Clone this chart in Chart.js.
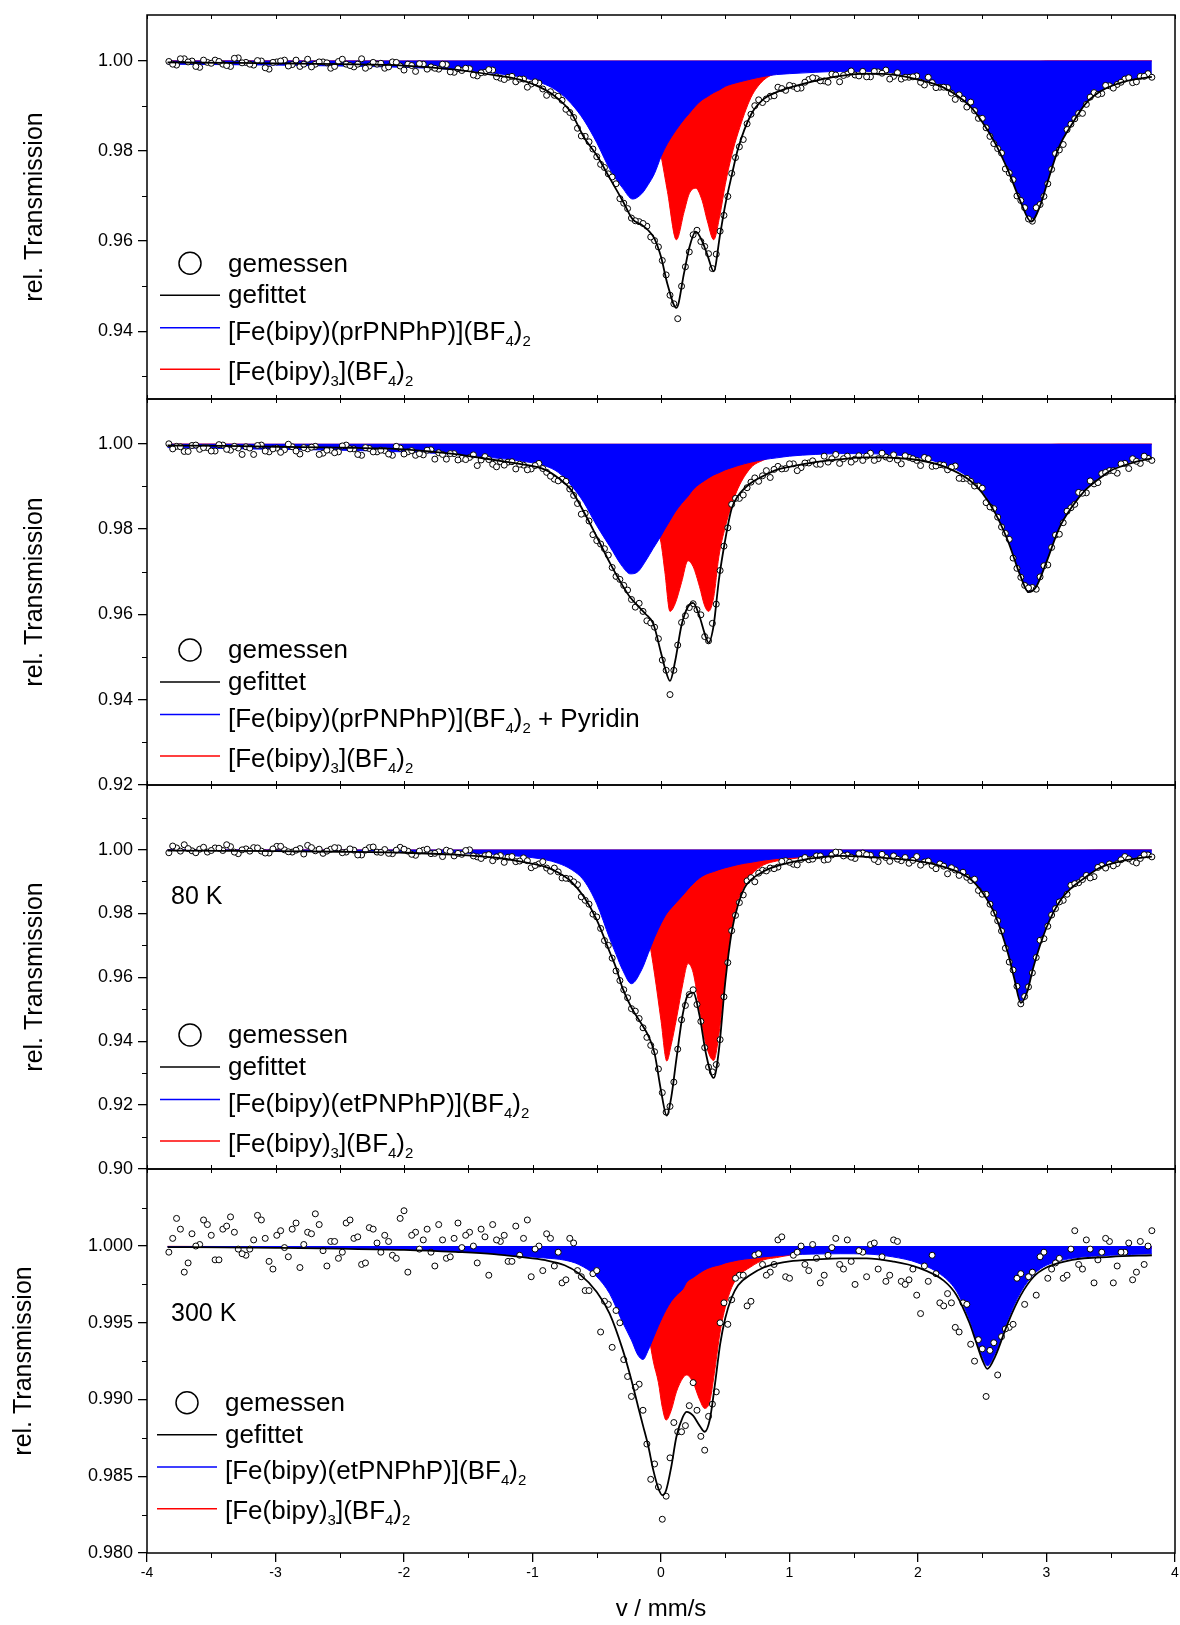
<!DOCTYPE html>
<html lang="de">
<head>
<meta charset="UTF-8">
<title>Mössbauer-Spektren</title>
<script src="https://cdn.jsdelivr.net/npm/chart.js"></script>
<style>
  body { margin: 0; background: #fff; }
  #wrap { position: relative; width: 1180px; height: 1625px; overflow: hidden; background: #fff; }
  canvas { position: absolute; left: 0; }
</style>
</head>
<body>
<div id="wrap">
  <canvas id="cTop" width="1180" height="414" style="top:0px"></canvas>
  <canvas id="cPyr" width="1180" height="416" style="top:384px"></canvas>
  <canvas id="c80" width="1180" height="414" style="top:770px"></canvas>
  <canvas id="c300" width="1180" height="471" style="top:1154px"></canvas>
</div>
<script>
// x axis (velocity, mm/s)
const velTicks = [-4, -3, -2, -1, 0, 1, 2, 3, 4];
const velMinor = [-3.5, -2.5, -1.5, -0.5, 0.5, 1.5, 2.5, 3.5];

// measuring channels, two interleaved sets (same for all spectra)
const channels = [
  -3.83,-3.77,-3.71,-3.65,-3.59,-3.53,-3.47,-3.41,-3.35,-3.29,
  -3.23,-3.17,-3.11,-3.05,-2.99,-2.93,-2.87,-2.81,-2.75,-2.69,
  -2.63,-2.57,-2.51,-2.45,-2.39,-2.33,-2.27,-2.21,-2.15,-2.09,
  -2.03,-1.97,-1.91,-1.85,-1.79,-1.73,-1.67,-1.61,-1.55,-1.49,
  -1.43,-1.37,-1.31,-1.25,-1.19,-1.13,-1.07,-1.01,-0.95,-0.89,
  -0.83,-0.77,-0.71,-0.65,-0.59,-0.53,-0.47,-0.41,-0.35,-0.29,
  -0.23,-0.17,-0.11,-0.05,0.01,0.07,0.13,0.19,0.25,0.31,
  0.37,0.43,0.49,0.55,0.61,0.67,0.73,0.79,0.85,0.91,
  0.97,1.03,1.09,1.15,1.21,1.27,1.33,1.39,1.45,1.51,
  1.57,1.63,1.69,1.75,1.81,1.87,1.93,1.99,2.05,2.11,
  2.17,2.23,2.29,2.35,2.41,2.47,2.53,2.59,2.65,2.71,
  2.77,2.83,2.89,2.95,3.01,3.07,3.13,3.19,3.25,3.31,
  3.37,3.43,3.49,3.55,3.61,3.67,3.73,3.79
];
const channelsB = [
  -3.80,-3.74,-3.68,-3.62,-3.56,-3.50,-3.44,-3.38,-3.32,-3.26,
  -3.20,-3.14,-3.08,-3.02,-2.96,-2.90,-2.84,-2.78,-2.72,-2.66,
  -2.60,-2.54,-2.48,-2.42,-2.36,-2.30,-2.24,-2.18,-2.12,-2.06,
  -2.00,-1.94,-1.88,-1.82,-1.76,-1.70,-1.64,-1.58,-1.52,-1.46,
  -1.40,-1.34,-1.28,-1.22,-1.16,-1.10,-1.04,-0.98,-0.92,-0.86,
  -0.80,-0.74,-0.68,-0.62,-0.56,-0.50,-0.44,-0.38,-0.32,-0.26,
  -0.20,-0.14,-0.08,-0.02,0.04,0.10,0.16,0.22,0.28,0.34,
  0.40,0.46,0.52,0.58,0.64,0.70,0.76,0.82,0.88,0.94,
  1.00,1.06,1.12,1.18,1.24,1.30,1.36,1.42,1.48,1.54,
  1.60,1.66,1.72,1.78,1.84,1.90,1.96,2.02,2.08,2.14,
  2.20,2.26,2.32,2.38,2.44,2.50,2.56,2.62,2.68,2.74,
  2.80,2.86,2.92,2.98,3.04,3.10,3.16,3.22,3.28,3.34,
  3.40,3.46,3.52,3.58,3.64,3.70,3.76,3.82
];

// --- panel 1: [Fe(bipy)(prPNPhP)](BF4)2 ---
const measTop = [
  0.9998,0.9990,1.0004,0.9999,0.9985,0.9996,1.0001,0.9992,0.9987,1.0006,
  0.9996,0.9990,0.9999,0.9981,0.9997,1.0001,0.9991,0.9987,1.0003,0.9992,
  0.9997,0.9983,0.9998,0.9992,0.9986,1.0004,0.9988,0.9992,0.9983,0.9997,
  0.9988,0.9992,0.9976,0.9992,0.9986,0.9981,0.9991,0.9974,0.9978,0.9982,
  0.9966,0.9974,0.9979,0.9961,0.9963,0.9953,0.9959,0.9948,0.9950,0.9923,
  0.9923,0.9912,0.9885,0.9850,0.9832,0.9804,0.9770,0.9749,0.9727,0.9684,
  0.9651,0.9643,0.9633,0.9601,0.9557,0.9480,0.9428,0.9543,0.9614,0.9599,
  0.9572,0.9571,0.9657,0.9750,0.9809,0.9860,0.9900,0.9907,0.9921,0.9941,
  0.9934,0.9943,0.9939,0.9958,0.9960,0.9955,0.9970,0.9953,0.9970,0.9968,
  0.9976,0.9964,0.9975,0.9979,0.9965,0.9959,0.9963,0.9966,0.9946,0.9951,
  0.9941,0.9940,0.9914,0.9915,0.9908,0.9872,0.9851,0.9816,0.9795,0.9751,
  0.9700,0.9674,0.9644,0.9681,0.9727,0.9794,0.9814,0.9859,0.9883,0.9903,
  0.9929,0.9927,0.9944,0.9947,0.9959,0.9951,0.9965,0.9971
];
const measTopB = [
  0.9992,1.0004,0.9997,0.9987,1.0001,0.9994,0.9998,0.9989,1.0005,0.9995,
  0.9992,1.0000,0.9984,0.9996,0.9999,0.9988,1.0001,0.9992,0.9986,0.9997,
  0.9995,0.9987,1.0003,0.9989,0.9992,0.9983,0.9996,0.9994,0.9986,0.9996,
  0.9979,0.9989,0.9993,0.9981,0.9983,0.9992,0.9975,0.9982,0.9983,0.9968,
  0.9973,0.9980,0.9964,0.9958,0.9965,0.9959,0.9941,0.9953,0.9937,0.9931,
  0.9921,0.9892,0.9874,0.9833,0.9820,0.9787,0.9763,0.9742,0.9694,0.9672,
  0.9645,0.9639,0.9609,0.9587,0.9525,0.9461,0.9500,0.9576,0.9624,0.9588,
  0.9539,0.9622,0.9699,0.9785,0.9825,0.9881,0.9913,0.9915,0.9922,0.9938,
  0.9945,0.9938,0.9952,0.9962,0.9955,0.9952,0.9968,0.9967,0.9977,0.9966,
  0.9964,0.9976,0.9972,0.9959,0.9973,0.9963,0.9964,0.9952,0.9963,0.9940,
  0.9941,0.9928,0.9924,0.9897,0.9889,0.9872,0.9832,0.9805,0.9760,0.9736,
  0.9690,0.9649,0.9674,0.9699,0.9759,0.9802,0.9847,0.9871,0.9883,0.9919,
  0.9925,0.9945,0.9939,0.9952,0.9962,0.9953,0.9965,0.9963
];
const gridTop = [-3.84,-3.4,-3.0,-2.5,-2.0,-1.6,-1.3,-1.1,-0.9,-0.8,-0.7,-0.6,-0.5,-0.4,-0.3,-0.22,-0.15,-0.1,-0.05,0,
  0.05,0.12,0.18,0.22,0.27,0.32,0.36,0.41,0.46,0.5,0.55,0.6,0.7,0.8,0.9,1.0,1.2,1.4,1.6,1.8,
  2.0,2.2,2.4,2.5,2.6,2.7,2.8,2.88,2.95,3.0,3.1,3.2,3.3,3.4,3.5,3.6,3.7,3.82];
const fitTop = [0.9996,0.9995,0.9994,0.9992,0.9989,0.9980,0.9968,0.9958,0.9935,0.9915,0.9885,0.9830,0.9790,0.9740,0.9690,0.9648,0.9636,0.9624,0.9605,0.9565,
  0.9505,0.9452,0.9530,0.9585,0.9621,0.9600,0.9570,0.9533,0.9615,0.9680,0.9745,0.9805,0.9880,0.9915,0.9930,0.9940,0.9955,0.9966,0.9971,0.9969,
  0.9958,0.9940,0.9900,0.9864,0.9817,0.9757,0.9686,0.9643,0.9678,0.9723,0.9810,0.9860,0.9903,0.9928,0.9943,0.9953,0.9959,0.9964];
const blueTop = [0.9992,0.9991,0.9990,0.9988,0.9985,0.9980,0.9972,0.9964,0.9947,0.9931,0.9905,0.9868,0.9818,0.9760,0.9718,0.9693,0.9705,0.9725,0.9750,0.9787,
  0.9816,0.9847,0.9870,0.9883,0.9900,0.9913,0.9920,0.9929,0.9936,0.9943,0.9948,0.9952,0.9959,0.9965,0.9969,0.9971,0.9974,0.9976,0.9976,0.9973,
  0.9961,0.9943,0.9903,0.9866,0.9820,0.9760,0.9688,0.9645,0.9680,0.9725,0.9812,0.9862,0.9905,0.9930,0.9945,0.9955,0.9961,0.9966];
const redTop = [0.9999,0.9999,0.9999,0.9999,0.9998,0.9998,0.9997,0.9996,0.9995,0.9994,0.9993,0.9992,0.9989,0.9982,0.9970,0.9952,0.9925,0.9898,0.9858,0.9790,
  0.9710,0.9603,0.9665,0.9705,0.9717,0.9690,0.9645,0.9603,0.9660,0.9725,0.9790,0.9840,0.9918,0.9957,0.9972,0.9980,0.9988,0.9992,0.9994,0.9996,
  0.9997,0.9997,0.9998,0.9998,0.9998,0.9998,0.9998,0.9998,0.9998,0.9999,0.9999,0.9999,0.9999,0.9999,0.9999,0.9999,0.9999,0.9999];

// --- panel 2: + Pyridin ---
const measPyr = [
  1.0000,0.9994,0.9982,0.9996,0.9987,0.9991,0.9983,0.9997,0.9985,0.9990,
  0.9993,0.9975,0.9997,0.9981,0.9990,0.9986,0.9993,0.9976,0.9988,0.9994,
  0.9978,0.9985,0.9981,0.9997,0.9988,0.9973,0.9989,0.9981,0.9984,0.9973,
  0.9990,0.9981,0.9973,0.9974,0.9986,0.9979,0.9964,0.9977,0.9966,0.9968,
  0.9949,0.9970,0.9952,0.9958,0.9957,0.9941,0.9950,0.9941,0.9954,0.9933,
  0.9917,0.9917,0.9894,0.9860,0.9837,0.9787,0.9765,0.9739,0.9689,0.9668,
  0.9635,0.9626,0.9585,0.9570,0.9493,0.9412,0.9528,0.9597,0.9625,0.9599,
  0.9538,0.9624,0.9760,0.9858,0.9872,0.9897,0.9920,0.9925,0.9921,0.9947,
  0.9942,0.9953,0.9944,0.9955,0.9952,0.9971,0.9965,0.9954,0.9971,0.9964,
  0.9961,0.9978,0.9965,0.9969,0.9974,0.9953,0.9968,0.9961,0.9968,0.9947,
  0.9951,0.9939,0.9948,0.9918,0.9912,0.9901,0.9862,0.9848,0.9805,0.9776,
  0.9708,0.9668,0.9663,0.9688,0.9716,0.9786,0.9815,0.9850,0.9886,0.9885,
  0.9906,0.9930,0.9937,0.9931,0.9954,0.9965,0.9954,0.9966
];
const measPyrB = [
  0.9988,0.9993,0.9982,0.9997,0.9991,0.9983,0.9998,0.9987,0.9994,0.9975,
  0.9990,0.9996,0.9983,0.9988,0.9980,0.9999,0.9983,0.9991,0.9992,0.9975,
  0.9985,0.9979,0.9995,0.9988,0.9975,0.9991,0.9981,0.9985,0.9976,0.9994,
  0.9976,0.9984,0.9977,0.9985,0.9964,0.9975,0.9977,0.9962,0.9963,0.9974,
  0.9962,0.9963,0.9946,0.9950,0.9958,0.9952,0.9939,0.9949,0.9942,0.9924,
  0.9913,0.9912,0.9879,0.9835,0.9819,0.9773,0.9754,0.9710,0.9682,0.9657,
  0.9617,0.9607,0.9580,0.9543,0.9469,0.9469,0.9581,0.9616,0.9611,0.9548,
  0.9579,0.9703,0.9803,0.9872,0.9880,0.9910,0.9912,0.9937,0.9940,0.9941,
  0.9953,0.9937,0.9955,0.9960,0.9952,0.9957,0.9975,0.9965,0.9957,0.9972,
  0.9971,0.9961,0.9978,0.9965,0.9962,0.9972,0.9965,0.9949,0.9965,0.9948,
  0.9950,0.9945,0.9919,0.9919,0.9901,0.9896,0.9852,0.9828,0.9790,0.9732,
  0.9687,0.9662,0.9659,0.9714,0.9757,0.9788,0.9842,0.9858,0.9884,0.9913,
  0.9909,0.9933,0.9937,0.9953,0.9942,0.9959,0.9971,0.9961
];
const gridPyr = [-3.84,-3.4,-3.0,-2.5,-2.0,-1.6,-1.3,-1.1,-0.9,-0.8,-0.7,-0.6,-0.5,-0.4,-0.3,-0.24,-0.18,-0.12,-0.06,0,
  0.03,0.07,0.11,0.16,0.21,0.25,0.3,0.34,0.37,0.41,0.45,0.5,0.55,0.6,0.7,0.8,0.9,1.0,1.2,1.4,
  1.6,1.8,2.0,2.2,2.4,2.5,2.6,2.7,2.8,2.86,2.92,3.0,3.1,3.2,3.3,3.4,3.5,3.6,3.7,3.82];
const fitPyr = [0.9996,0.9995,0.9993,0.9991,0.9987,0.9976,0.9962,0.9953,0.9939,0.9920,0.9892,0.9840,0.9782,0.9722,0.9668,0.9640,0.9620,0.9601,0.9578,0.9510,
  0.9475,0.9444,0.9490,0.9575,0.9618,0.9627,0.9595,0.9555,0.9534,0.9575,0.9680,0.9775,0.9848,0.9878,0.9908,0.9925,0.9939,0.9946,0.9957,0.9964,
  0.9968,0.9967,0.9962,0.9947,0.9915,0.9885,0.9838,0.9772,0.9688,0.9652,0.9665,0.9723,0.9803,0.9853,0.9891,0.9916,0.9937,0.9949,0.9958,0.9966];
const bluePyr = [0.9991,0.9989,0.9987,0.9985,0.9981,0.9975,0.9967,0.9960,0.9948,0.9933,0.9903,0.9862,0.9808,0.9760,0.9712,0.9695,0.9700,0.9725,0.9755,0.9784,
  0.9800,0.9820,0.9840,0.9860,0.9877,0.9893,0.9906,0.9914,0.9920,0.9927,0.9932,0.9939,0.9944,0.9949,0.9957,0.9963,0.9967,0.9971,0.9975,0.9977,
  0.9977,0.9974,0.9968,0.9952,0.9920,0.9889,0.9842,0.9775,0.9690,0.9654,0.9667,0.9725,0.9805,0.9855,0.9893,0.9918,0.9940,0.9952,0.9962,0.9970];
const redPyr = [0.9999,0.9999,0.9998,0.9998,0.9997,0.9996,0.9994,0.9992,0.9989,0.9987,0.9985,0.9982,0.9976,0.9967,0.9955,0.9945,0.9925,0.9895,0.9840,0.9768,
  0.9700,0.9607,0.9625,0.9675,0.9726,0.9712,0.9665,0.9620,0.9607,0.9640,0.9735,0.9805,0.9856,0.9896,0.9944,0.9962,0.9972,0.9978,0.9985,0.9989,
  0.9992,0.9994,0.9995,0.9996,0.9997,0.9997,0.9997,0.9998,0.9998,0.9998,0.9998,0.9998,0.9999,0.9999,0.9999,0.9999,0.9999,0.9999,0.9999,0.9999];

// --- panel 3: [Fe(bipy)(etPNPhP)](BF4)2, 80 K ---
const meas80 = [
  0.9990,1.0005,1.0015,0.9996,1.0001,0.9992,1.0005,0.9997,1.0009,0.9987,
  1.0002,1.0006,0.9995,0.9989,1.0010,0.9999,0.9992,1.0003,1.0013,0.9996,
  0.9988,1.0001,1.0005,0.9992,0.9998,0.9983,1.0006,0.9992,1.0000,0.9987,
  1.0007,0.9995,0.9982,0.9998,0.9987,0.9993,0.9998,0.9980,0.9985,0.9999,
  0.9977,0.9981,0.9965,0.9981,0.9976,0.9962,0.9974,0.9943,0.9955,0.9942,
  0.9942,0.9911,0.9908,0.9890,0.9841,0.9798,0.9753,0.9700,0.9620,0.9561,
  0.9502,0.9471,0.9412,0.9367,0.9239,0.9196,0.9375,0.9512,0.9561,0.9462,
  0.9319,0.9327,0.9539,0.9746,0.9834,0.9902,0.9899,0.9935,0.9942,0.9945,
  0.9965,0.9954,0.9969,0.9968,0.9980,0.9967,0.9983,0.9991,0.9983,0.9972,
  0.9989,0.9982,0.9962,0.9975,0.9980,0.9965,0.9957,0.9978,0.9961,0.9950,
  0.9955,0.9924,0.9936,0.9929,0.9903,0.9872,0.9860,0.9801,0.9745,0.9648,
  0.9572,0.9540,0.9614,0.9716,0.9760,0.9815,0.9841,0.9888,0.9896,0.9919,
  0.9915,0.9950,0.9955,0.9956,0.9978,0.9963,0.9972,0.9983
];
const meas80B = [
  1.0011,0.9995,1.0003,0.9990,1.0007,0.9997,1.0004,1.0015,0.9992,0.9999,
  0.9995,1.0005,0.9989,1.0002,1.0010,0.9993,0.9998,0.9986,1.0006,1.0001,
  0.9995,1.0006,0.9990,1.0002,0.9983,0.9998,1.0008,0.9991,0.9988,0.9998,
  1.0001,0.9985,0.9995,1.0001,0.9988,0.9978,0.9994,0.9988,0.9997,0.9980,
  0.9972,0.9984,0.9977,0.9960,0.9978,0.9964,0.9965,0.9950,0.9962,0.9932,
  0.9930,0.9910,0.9899,0.9852,0.9829,0.9789,0.9715,0.9660,0.9590,0.9536,
  0.9494,0.9442,0.9387,0.9313,0.9178,0.9272,0.9467,0.9546,0.9515,0.9380,
  0.9304,0.9405,0.9646,0.9794,0.9858,0.9912,0.9926,0.9933,0.9940,0.9963,
  0.9960,0.9952,0.9975,0.9970,0.9980,0.9969,0.9992,0.9980,0.9976,0.9987,
  0.9984,0.9969,0.9985,0.9963,0.9970,0.9975,0.9966,0.9951,0.9964,0.9940,
  0.9948,0.9943,0.9919,0.9913,0.9907,0.9860,0.9829,0.9777,0.9691,0.9623,
  0.9517,0.9570,0.9662,0.9721,0.9795,0.9836,0.9860,0.9893,0.9906,0.9911,
  0.9944,0.9942,0.9949,0.9968,0.9971,0.9958,0.9984,0.9977
];
const grid80 = [-3.84,-3.4,-3.0,-2.5,-2.0,-1.6,-1.3,-1.1,-0.9,-0.8,-0.7,-0.6,-0.5,-0.4,-0.35,-0.3,-0.23,-0.15,-0.1,-0.05,
  0,0.045,0.08,0.12,0.17,0.21,0.25,0.3,0.35,0.41,0.45,0.5,0.55,0.6,0.65,0.7,0.8,0.9,1.0,1.2,
  1.4,1.6,1.8,2.0,2.2,2.4,2.5,2.6,2.7,2.75,2.8,2.85,2.9,3.0,3.1,3.2,3.3,3.4,3.5,3.6,3.7,3.82];
const fit80 = [0.9997,0.9996,0.9995,0.9993,0.9990,0.9984,0.9975,0.9963,0.9946,0.9928,0.9900,0.9852,0.9780,0.9680,0.9630,0.9567,0.9505,0.9453,0.9418,0.9362,
  0.9245,0.9167,0.9225,0.9345,0.9486,0.9545,0.9552,0.9480,0.9361,0.9285,0.9370,0.9585,0.9742,0.9828,0.9880,0.9905,0.9932,0.9948,0.9959,0.9974,
  0.9980,0.9977,0.9972,0.9964,0.9946,0.9910,0.9866,0.9795,0.9675,0.9595,0.9520,0.9555,0.9635,0.9756,0.9836,0.9882,0.9912,0.9940,0.9955,0.9965,0.9972,0.9978];
const blue80 = [0.9999,0.9998,0.9997,0.9996,0.9994,0.9990,0.9985,0.9979,0.9968,0.9957,0.9938,0.9903,0.9830,0.9722,0.9672,0.9624,0.9580,0.9624,0.9674,0.9725,
  0.9768,0.9800,0.9817,0.9835,0.9857,0.9876,0.9893,0.9911,0.9923,0.9931,0.9937,0.9943,0.9948,0.9953,0.9957,0.9960,0.9967,0.9972,0.9975,0.9980,
  0.9982,0.9980,0.9976,0.9968,0.9950,0.9915,0.9870,0.9800,0.9680,0.9600,0.9525,0.9560,0.9640,0.9760,0.9840,0.9885,0.9915,0.9943,0.9958,0.9968,0.9975,0.9981];
const red80 = [0.9999,0.9999,0.9998,0.9998,0.9997,0.9995,0.9993,0.9990,0.9986,0.9983,0.9980,0.9976,0.9970,0.9962,0.9955,0.9945,0.9925,0.9835,0.9735,0.9610,
  0.9465,0.9338,0.9390,0.9470,0.9580,0.9643,0.9615,0.9500,0.9390,0.9340,0.9420,0.9600,0.9755,0.9840,0.9887,0.9920,0.9952,0.9964,0.9970,0.9980,
  0.9985,0.9988,0.9990,0.9992,0.9993,0.9994,0.9994,0.9995,0.9995,0.9995,0.9995,0.9996,0.9996,0.9996,0.9997,0.9997,0.9997,0.9998,0.9998,0.9998,0.9998,0.9998];

// --- panel 4: [Fe(bipy)(etPNPhP)](BF4)2, 300 K ---
const meas300 = [
  0.9996,1.0018,0.9983,1.0008,1.0001,1.0014,0.9991,1.0011,1.0019,0.9998,
  0.9994,1.0004,1.0017,0.9990,1.0007,0.9999,1.0011,0.9986,1.0009,1.0021,
  0.9997,1.0003,0.9992,1.0015,1.0005,0.9988,1.0012,1.0002,1.0007,0.9994,
  1.0018,0.9983,1.0009,1.0004,0.9996,1.0014,0.9992,1.0005,0.9999,1.0009,
  0.9989,1.0006,1.0014,1.0003,0.9990,1.0013,1.0005,0.9980,1.0000,1.0008,
  0.9987,0.9976,1.0005,0.9984,0.9971,0.9982,0.9944,0.9962,0.9958,0.9926,
  0.9902,0.9910,0.9871,0.9858,0.9822,0.9862,0.9879,0.9883,0.9911,0.9876,
  0.9889,0.9905,0.9963,0.9965,0.9981,0.9961,0.9994,0.9988,0.9983,1.0004,
  0.9980,0.9994,1.0000,0.9984,0.9992,0.9981,0.9999,0.9988,1.0004,0.9975,
  0.9996,1.0001,0.9985,0.9977,1.0004,0.9977,0.9978,0.9968,0.9987,0.9994,
  0.9963,0.9969,0.9947,0.9963,0.9936,0.9939,0.9902,0.9937,0.9941,0.9947,
  0.9979,0.9962,0.9983,0.9993,0.9979,0.9989,0.9979,0.9998,0.9988,1.0004,
  0.9976,0.9996,1.0003,0.9987,0.9996,0.9978,1.0003,1.0000
];
const meas300B = [
  1.0005,1.0011,0.9989,1.0000,1.0017,1.0007,0.9991,1.0013,1.0009,0.9995,
  0.9998,1.0020,1.0005,0.9985,1.0010,0.9993,1.0015,1.0001,1.0008,1.0014,
  0.9987,1.0003,0.9996,1.0017,1.0006,0.9989,1.0011,0.9996,1.0003,0.9992,
  1.0023,1.0007,0.9998,1.0011,0.9987,1.0004,0.9993,1.0015,1.0007,1.0000,
  1.0011,0.9981,1.0004,1.0007,0.9990,0.9994,1.0017,0.9998,0.9984,1.0005,
  0.9996,0.9978,1.0002,0.9980,0.9971,0.9984,0.9964,0.9934,0.9950,0.9915,
  0.9908,0.9893,0.9848,0.9843,0.9837,0.9885,0.9879,0.9896,0.9893,0.9867,
  0.9897,0.9950,0.9949,0.9979,0.9981,0.9964,0.9995,0.9981,0.9988,1.0006,
  0.9979,0.9996,0.9988,1.0001,0.9976,0.9994,1.0005,0.9985,0.9990,0.9997,
  0.9980,1.0002,0.9993,0.9981,1.0003,0.9975,0.9985,0.9956,0.9977,0.9982,
  0.9961,0.9963,0.9944,0.9962,0.9925,0.9933,0.9932,0.9916,0.9946,0.9949,
  0.9982,0.9980,0.9968,0.9996,0.9985,0.9992,0.9981,1.0010,0.9985,0.9998,
  0.9991,1.0005,0.9976,0.9996,1.0002,0.9983,0.9988,1.0010
];
const grid300 = [-3.84,-3.4,-3.0,-2.5,-2.0,-1.6,-1.3,-1.1,-0.9,-0.75,-0.64,-0.5,-0.4,-0.3,-0.23,-0.18,-0.14,-0.1,-0.06,-0.02,
  0.01,0.04,0.08,0.12,0.17,0.2,0.25,0.3,0.34,0.38,0.42,0.46,0.5,0.55,0.6,0.7,0.8,0.9,1.0,1.2,
  1.4,1.6,1.8,2.0,2.2,2.3,2.4,2.45,2.5,2.54,2.6,2.7,2.8,2.9,3.0,3.2,3.5,3.82];
const fit300 = [0.99993,0.99991,0.99988,0.99983,0.99975,0.99962,0.99948,0.99930,0.99908,0.99875,0.99822,0.99700,0.99560,0.99330,0.99126,0.98960,0.98830,0.98700,0.98540,0.98420,
  0.98377,0.98409,0.98562,0.98757,0.98887,0.98920,0.98895,0.98830,0.98790,0.98870,0.99100,0.99360,0.99530,0.99665,0.99745,0.99815,0.99860,0.99885,0.99900,0.99912,
  0.99920,0.99920,0.99900,0.99860,0.99775,0.99680,0.99500,0.99380,0.99260,0.99200,0.99280,0.99500,0.99680,0.99800,0.99860,0.99910,0.99930,0.99940];
const blue300 = [0.99996,0.99994,0.99991,0.99986,0.99978,0.99965,0.99952,0.99935,0.99922,0.99908,0.99880,0.99800,0.99690,0.99505,0.99387,0.99290,0.99261,0.99320,0.99400,0.99480,
  0.99535,0.99585,0.99640,0.99680,0.99720,0.99765,0.99795,0.99825,0.99845,0.99860,0.99870,0.99878,0.99890,0.99900,0.99909,0.99920,0.99930,0.99937,0.99943,0.99948,
  0.99950,0.99948,0.99930,0.99890,0.99800,0.99705,0.99520,0.99400,0.99280,0.99220,0.99300,0.99520,0.99700,0.99815,0.99875,0.99920,0.99940,0.99950];
const red300 = [0.99998,0.99997,0.99996,0.99995,0.99993,0.99991,0.99989,0.99986,0.99982,0.99978,0.99975,0.99968,0.99958,0.99940,0.99900,0.99800,0.99700,0.99450,0.99250,0.99110,
  0.98950,0.98866,0.98930,0.99050,0.99140,0.99160,0.99110,0.99000,0.98942,0.98990,0.99200,0.99440,0.99600,0.99730,0.99800,0.99865,0.99910,0.99925,0.99940,0.99955,
  0.99962,0.99967,0.99970,0.99972,0.99975,0.99976,0.99977,0.99978,0.99978,0.99978,0.99979,0.99980,0.99980,0.99981,0.99982,0.99983,0.99984,0.99985];

// y ticks
const majorTop = [0.94, 0.96, 0.98, 1.00];
const minorTop = [0.93, 0.95, 0.97, 0.99];
const majorPyr = [0.92, 0.94, 0.96, 0.98, 1.00];
const minorPyr = [0.93, 0.95, 0.97, 0.99];
const major80 = [0.90, 0.92, 0.94, 0.96, 0.98, 1.00];
const minor80 = [0.91, 0.93, 0.95, 0.97, 0.99, 1.01];
const major300 = [0.980, 0.985, 0.990, 0.995, 1.000];
const minor300 = [0.9825, 0.9875, 0.9925, 0.9975, 1.0025];

// legend texts ([text, isSubscript])
const nameBipyPr = [['[Fe(bipy)(prPNPhP)](BF', 0], ['4', 1], [')', 0], ['2', 1]];
const nameBipyPrPy = [['[Fe(bipy)(prPNPhP)](BF', 0], ['4', 1], [')', 0], ['2', 1], [' + Pyridin', 0]];
const nameBipyEt = [['[Fe(bipy)(etPNPhP)](BF', 0], ['4', 1], [')', 0], ['2', 1]];
const nameTris = [['[Fe(bipy)', 0], ['3', 1], ['](BF', 0], ['4', 1], [')', 0], ['2', 1]];

const FONT = '"Liberation Sans", Arial, sans-serif';
Chart.defaults.font.family = FONT;
Chart.defaults.color = '#000';

const panels = [
  { id: 'cTop', grid: gridTop, fit: fitTop, blue: blueTop, red: redTop, meas: measTop, measB: measTopB,
    min: 0.925, max: 1.0101, major: majorTop, minor: minorTop, dec: 2,
    blueName: nameBipyPr, legX: 190, legY: 248.3, note: null, titlePad: 20, xAxis: false },
  { id: 'cPyr', grid: gridPyr, fit: fitPyr, blue: bluePyr, red: redPyr, meas: measPyr, measB: measPyrB,
    min: 0.92, max: 1.0105, major: majorPyr, minor: minorPyr, dec: 2,
    blueName: nameBipyPrPy, legX: 190, legY: 251, note: null, titlePad: 20, xAxis: false },
  { id: 'c80', grid: grid80, fit: fit80, blue: blue80, red: red80, meas: meas80, measB: meas80B,
    min: 0.90, max: 1.0202, major: major80, minor: minor80, dec: 2,
    blueName: nameBipyEt, legX: 190, legY: 250, note: ['80 K', 171, 119], titlePad: 20, xAxis: false },
  { id: 'c300', grid: grid300, fit: fit300, blue: blue300, red: red300, meas: meas300, measB: meas300B,
    min: 0.980, max: 1.00502, major: major300, minor: minor300, dec: 3,
    blueName: nameBipyEt, legX: 187, legY: 233.7, note: ['300 K', 171, 152], titlePad: 9, xAxis: true }
];

function richText(ctx, parts, x, y) {
  for (const [txt, sub] of parts) {
    ctx.font = (sub ? '15px ' : '26px ') + FONT;
    ctx.fillText(txt, x, sub ? y + 6 : y);
    x += ctx.measureText(txt).width;
  }
}

// frame, inner ticks, minor ticks, legend
const panelDecor = {
  id: 'panelDecor',
  afterDatasetsDraw(chart, args, o) {
    const { ctx, chartArea: a } = chart;
    const x = chart.scales.x, y = chart.scales.y;
    ctx.save();
    ctx.strokeStyle = '#000';
    ctx.lineWidth = 1.5;
    ctx.strokeRect(a.left, a.top, a.right - a.left, a.bottom - a.top);

    ctx.lineWidth = 1;
    ctx.beginPath();
    for (const v of velTicks.concat(velMinor)) {
      const px = Math.round(x.getPixelForValue(v)) + 0.5;
      ctx.moveTo(px, a.top); ctx.lineTo(px, a.top + 4);
      if (!o.xAxis) { ctx.moveTo(px, a.bottom); ctx.lineTo(px, a.bottom - 4); }
    }
    if (o.xAxis) {
      for (const v of velMinor) {
        const px = Math.round(x.getPixelForValue(v)) + 0.5;
        ctx.moveTo(px, a.bottom); ctx.lineTo(px, a.bottom + 5);
      }
    }
    for (const v of o.minor) {
      const py = Math.round(y.getPixelForValue(v)) + 0.5;
      ctx.moveTo(a.left - 5, py); ctx.lineTo(a.left, py);
    }
    ctx.stroke();

    // legend
    const cx = o.legX, cy = a.top + o.legY, tx = cx + 38;
    ctx.fillStyle = '#fff';
    ctx.lineWidth = 1.5;
    ctx.beginPath(); ctx.arc(cx, cy, 11, 0, Math.PI * 2); ctx.fill(); ctx.stroke();
    const seg = (yy, col) => {
      ctx.strokeStyle = col; ctx.lineWidth = 1.5;
      ctx.beginPath(); ctx.moveTo(cx - 30, yy); ctx.lineTo(cx + 30, yy); ctx.stroke();
    };
    seg(cy + 32, '#000');
    seg(cy + 64.4, '#0000ff');
    seg(cy + 106, '#ff0000');
    ctx.fillStyle = '#000';
    ctx.textBaseline = 'alphabetic';
    ctx.textAlign = 'left';
    richText(ctx, [['gemessen', 0]], tx, cy + 8.4);
    richText(ctx, [['gefittet', 0]], tx, cy + 40);
    richText(ctx, o.blueName, tx, cy + 76.7);
    richText(ctx, nameTris, tx, cy + 116.7);
    if (o.note) {
      ctx.font = '25px ' + FONT;
      ctx.fillText(o.note[0], o.note[1], a.top + o.note[2]);
    }
    ctx.restore();
  }
};

const pts = (xs, ys) => xs.map((v, i) => ({ x: v, y: ys[i] }));

panels.forEach(p => {
  const curve = { pointRadius: 0, cubicInterpolationMode: 'monotone' };
  new Chart(document.getElementById(p.id), {
    type: 'line',
    data: {
      datasets: [
        Object.assign({ label: 'gefittet', data: pts(p.grid, p.fit), borderColor: '#000', borderWidth: 1.8, fill: false, order: 1 }, curve),
        { label: 'gemessen', data: pts(channels, p.meas).concat(pts(channelsB, p.measB)), showLine: false, pointRadius: 3,
          pointBackgroundColor: '#fff', pointBorderColor: '#000', pointBorderWidth: 1, order: 2 },
        Object.assign({ label: 'blue', data: pts(p.grid, p.blue), borderColor: '#0000ff', backgroundColor: '#0000ff',
          borderWidth: 1, fill: { value: 1 }, order: 3 }, curve),
        Object.assign({ label: 'red', data: pts(p.grid, p.red), borderColor: '#ff0000', backgroundColor: '#ff0000',
          borderWidth: 1, fill: { value: 1 }, order: 4 }, curve)
      ]
    },
    options: {
      responsive: false,
      animation: false,
      devicePixelRatio: 1,
      events: [],
      layout: { padding: { top: 15, bottom: p.xAxis ? 0 : 15, left: 0, right: 1 } },
      plugins: {
        legend: { display: false },
        tooltip: { enabled: false },
        panelDecor: { minor: p.minor, legX: p.legX, legY: p.legY, blueName: p.blueName, note: p.note, xAxis: p.xAxis }
      },
      scales: {
        x: {
          type: 'linear', min: -4, max: 4, display: p.xAxis,
          afterBuildTicks: s => { s.ticks = velTicks.map(v => ({ value: v })); },
          afterFit: s => { if (p.xAxis) s.height = 72; s.paddingLeft = 0; s.paddingRight = 0; },
          grid: { drawOnChartArea: false, tickLength: 9, color: '#000', lineWidth: 1.3 },
          border: { display: false },
          ticks: { font: { size: 14 }, padding: 3, maxRotation: 0, callback: v => String(v) },
          title: { display: true, text: 'v / mm/s', font: { size: 24 }, padding: { top: 0, bottom: 1 } }
        },
        y: {
          type: 'linear', min: p.min, max: p.max,
          afterBuildTicks: s => { s.ticks = p.major.map(v => ({ value: v })); },
          afterFit: s => { s.width = 147; s.paddingTop = 0; s.paddingBottom = 0; },
          grid: { drawOnChartArea: false, tickLength: 9, color: '#000', lineWidth: 1.3 },
          border: { display: false },
          ticks: { font: { size: 18 }, padding: 5, callback: v => v.toFixed(p.dec) },
          title: { display: true, text: 'rel. Transmission', font: { size: 25 }, padding: { top: p.titlePad, bottom: 0 } }
        }
      }
    },
    plugins: [panelDecor]
  });
});
</script>
</body>
</html>
